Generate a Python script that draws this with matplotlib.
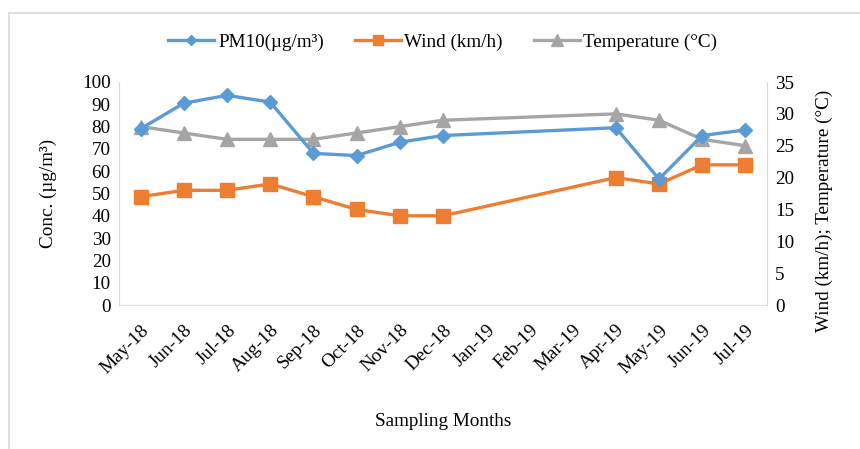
import numpy as np
import matplotlib
matplotlib.use("Agg")
import matplotlib.pyplot as plt
from matplotlib.patches import Rectangle

plt.rcParams['font.family'] = ['Liberation Serif', 'DejaVu Serif']

# data
months = ['May-18', 'Jun-18', 'Jul-18', 'Aug-18', 'Sep-18', 'Oct-18', 'Nov-18',
          'Dec-18', 'Jan-19', 'Feb-19', 'Mar-19', 'Apr-19', 'May-19', 'Jun-19', 'Jul-19']
pm10 = [79, 90.5, 94, 91, 68, 67, 73, 76, None, None, None, 79.5, 56.5, 76, 78.5]
wind = [17, 18, 18, 19, 17, 15, 14, 14, None, None, None, 20, 19, 22, 22]
temp = [28, 27, 26, 26, 26, 27, 28, 29, None, None, None, 30, 29, 26, 25]


def valid(vals):
    # drop the months with no sampling, line goes straight across the gap
    x = np.array([i for i, v in enumerate(vals) if v is not None])
    y = np.array([v for v in vals if v is not None], dtype=float)
    return x, y


fig = plt.figure(figsize=(8.6, 4.49), dpi=100)
ax = fig.add_axes([119 / 860, 1 - 305 / 449, 648 / 860, 223 / 449])
ax2 = ax.twinx()

blue = '#5B9BD5'
orange = '#ED7D31'
grey = '#A5A5A5'

x, y = valid(pm10)
l1, = ax.plot(x, y, color=blue, lw=2.4, marker='D', ms=7, zorder=5,
              label='PM10(µg/m³)')
x, y = valid(wind)
l2, = ax2.plot(x, y, color=orange, lw=2.4, marker='s', ms=9.5,
               label='Wind (km/h)')
x, y = valid(temp)
l3, = ax2.plot(x, y, color=grey, lw=2.4, marker='^', ms=10,
               label='Temperature (°C)')

# blue on top of the right axes series
ax.set_zorder(ax2.get_zorder() + 1)
ax.patch.set_visible(False)

ax.set_xlim(-0.5, len(months) - 0.5)
ax.set_ylim(0, 100)
ax.set_yticks(range(0, 101, 10))
ax2.set_ylim(0, 35)
ax2.set_yticks(range(0, 36, 5))
ax.set_xticks(range(len(months)))
ax.set_xticklabels(months, rotation=45, ha='right', rotation_mode='anchor')

fs = 13.8
for a in (ax, ax2):
    for s in a.spines.values():
        s.set_color('#D9D9D9')
    a.spines['top'].set_visible(False)
    a.tick_params(length=0, labelsize=fs, pad=6)
ax.spines['right'].set_visible(False)
ax2.spines['left'].set_visible(False)
ax2.spines['bottom'].set_visible(False)
ax.tick_params(axis='x', pad=12)

ax.set_ylabel('Conc. (µg/m³)', fontsize=fs, labelpad=18)
ax2.set_ylabel('Wind (km/h); Temperature (°C)', fontsize=fs, labelpad=12)
ax2.yaxis.set_label_coords(1.075, 0.42)
ax.set_xlabel('Sampling Months', fontsize=fs, labelpad=26)

fig.legend(handles=[l1, l2, l3], loc='center', bbox_to_anchor=(0.515, 1 - 42 / 449),
           ncol=3, frameon=False, fontsize=fs, handlelength=2.4, columnspacing=1.6,
           handletextpad=0.2, markerscale=0.8)

fig.patches.append(Rectangle((9 / 860, -0.1), 1.0, 1 - 13 / 449 + 0.1,
                             transform=fig.transFigure, fill=False,
                             edgecolor='#D9D9D9', lw=1.2))

fig.savefig('out.png', dpi=100)
